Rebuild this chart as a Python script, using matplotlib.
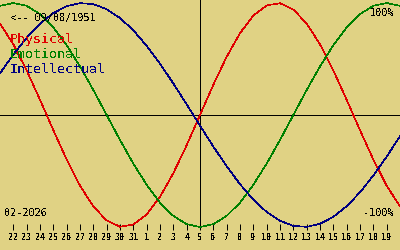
import matplotlib
matplotlib.use("Agg")
import matplotlib.pyplot as plt
import numpy as np

plt.rcParams['text.antialiased'] = False

# ---- data ----
birth_label = "<-- 09/08/1951"
month_label = "02-2026"
day_labels = ['22', '23', '24', '25', '26', '27', '28', '29', '30', '31',
              '1', '2', '3', '4', '5', '6', '7', '8', '9', '10', '11', '12',
              '13', '14', '15', '16', '17', '18', '19']
today_label = '5'
# daily values from Jan 21 (one day before first label) to Feb 20
curve_days = list(range(-1, 30))
physical = [0.817, 0.631, 0.398, 0.136, -0.136, -0.398, -0.631, -0.817, -0.942,
            -0.998, -0.979, -0.888, -0.731, -0.520, -0.270, 0.0, 0.270, 0.520,
            0.731, 0.888, 0.979, 0.998, 0.942, 0.817, 0.631, 0.398, 0.136,
            -0.136, -0.398, -0.631, -0.817]
emotional = [0.975, 1.0, 0.975, 0.901, 0.782, 0.623, 0.434, 0.223, 0.0, -0.223,
             -0.434, -0.623, -0.782, -0.901, -0.975, -1.0, -0.975, -0.901,
             -0.782, -0.623, -0.434, -0.223, 0.0, 0.223, 0.434, 0.623, 0.782,
             0.901, 0.975, 1.0, 0.975]
intellectual = [0.372, 0.541, 0.690, 0.815, 0.910, 0.972, 0.999, 0.990, 0.945,
                0.866, 0.756, 0.618, 0.458, 0.282, 0.095, -0.095, -0.282, -0.458,
                -0.618, -0.756, -0.866, -0.945, -0.990, -0.999, -0.972, -0.910,
                -0.815, -0.690, -0.541, -0.372, -0.189]
series_names = ['Physical', 'Emotional', 'Intellectual']
series_colors = ['#e00000', '#008000', '#000080']

BG = '#e0d284'
W, H = 400, 250
LW = 0.72

fig = plt.figure(figsize=(4, 2.5), dpi=100, facecolor=BG)
ax = fig.add_axes([0, 20 / H, 1, 230 / H])
ax.set_facecolor(BG)

xs = np.array(curve_days)
for vals, c in zip([physical, emotional, intellectual], series_colors):
    ax.plot(xs, vals, color=c, lw=0.45, antialiased=False, zorder=3)

today_idx = day_labels.index(today_label)
ax.axhline(0, color='black', lw=LW, antialiased=False, zorder=2)
ax.axvline(today_idx, color='black', lw=LW, antialiased=False, zorder=2)

ax.set_xlim(-1, len(day_labels))
ax.set_ylim(-1.027, 1.027)
ax.set_xticks(range(len(day_labels)))
ax.set_xticklabels(day_labels, fontfamily='DejaVu Sans Mono',
                   fontweight='bold', fontsize=6.0)
ax.tick_params(axis='x', direction='in', length=4.4, width=LW,
               color='black', pad=2.2)
ax.set_yticks([])
for s in ax.spines.values():
    s.set_visible(False)


def ftext(px, py, s, **kw):
    fig.text(px / W, 1 - py / H, s, family='DejaVu Sans Mono', **kw)


ftext(10, 21, birth_label, fontsize=7.4, va='baseline', color='black')
for k, (nm, c) in enumerate(zip(series_names, series_colors)):
    ftext(10, 43 + 15 * k, nm, fontsize=9.6, va='baseline', color=c)
ftext(394, 16, "100%", fontsize=7.4, va='baseline', ha='right', color='black')
ftext(394, 216.5, "-100%", fontsize=7.4, va='baseline', ha='right', color='black')
ftext(4, 216, month_label, fontsize=7.4, va='baseline', color='black')

fig.savefig('out.png', dpi=100, facecolor=BG)
